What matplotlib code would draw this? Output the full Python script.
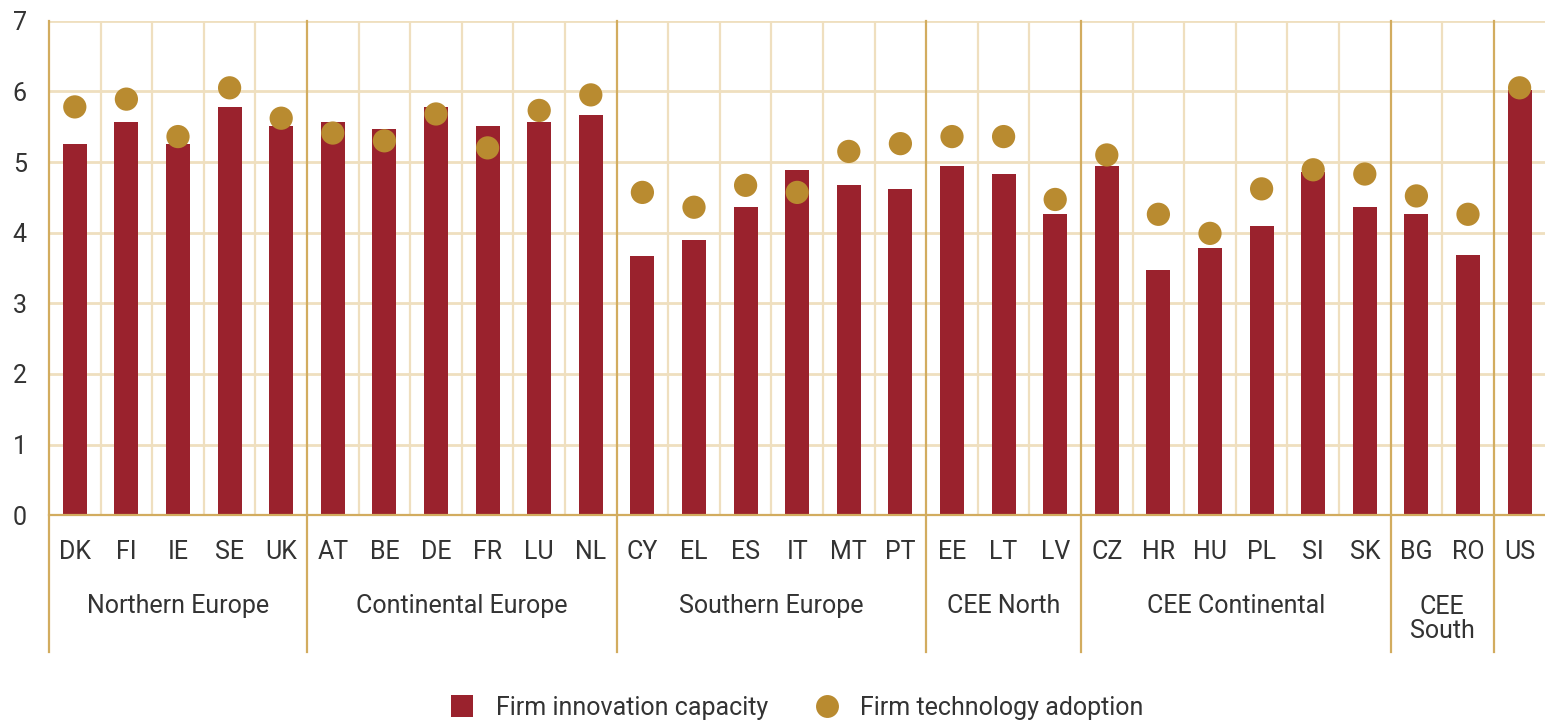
import matplotlib
matplotlib.use("Agg")
import matplotlib.pyplot as plt
from matplotlib.lines import Line2D
import numpy as np

plt.rcParams['font.family'] = ['Roboto', 'DejaVu Sans']

countries = ["DK", "FI", "IE", "SE", "UK",
             "AT", "BE", "DE", "FR", "LU", "NL",
             "CY", "EL", "ES", "IT", "MT", "PT",
             "EE", "LT", "LV",
             "CZ", "HR", "HU", "PL", "SI", "SK",
             "BG", "RO",
             "US"]
innovation = [5.25, 5.57, 5.25, 5.78, 5.51,
              5.57, 5.47, 5.78, 5.51, 5.57, 5.67,
              3.67, 3.89, 4.36, 4.88, 4.67, 4.62,
              4.94, 4.83, 4.26,
              4.94, 3.47, 3.79, 4.10, 4.86, 4.36,
              4.26, 3.68,
              6.02]
adoption = [5.78, 5.89, 5.36, 6.05, 5.62,
            5.41, 5.30, 5.68, 5.20, 5.73, 5.95,
            4.57, 4.36, 4.67, 4.57, 5.15, 5.26,
            5.36, 5.36, 4.47,
            5.10, 4.26, 3.99, 4.62, 4.89, 4.83,
            4.52, 4.26,
            6.05]
groups = ["Northern Europe", "Continental Europe", "Southern Europe",
          "CEE North", "CEE Continental", "CEE\nSouth", ""]
group_sizes = [5, 6, 6, 3, 6, 2, 1]
yticks = [0, 1, 2, 3, 4, 5, 6, 7]

BAR = "#9a222d"
DOT = "#b98b30"
LIGHT = "#efdfbf"
DARK = "#d2ac5f"
TXT = "#333333"
FS = 18

W, H = 1545, 723
fig = plt.figure(figsize=(W / 100, H / 100), dpi=100)
ax = fig.add_axes([49 / W, (H - 515.3) / H, (1545.4 - 49) / W, (515.3 - 20.7) / H])

n = len(countries)
x = np.arange(n) + 0.5
ax.set_xlim(0, n)
ax.set_ylim(0, 7)

# grid
for yv in yticks[1:]:
    ax.axhline(yv, color=LIGHT, lw=2, zorder=0)
bounds = np.cumsum(group_sizes)
for b in range(1, n):
    if b in bounds:
        continue
    ax.axvline(b, color=LIGHT, lw=1.6, zorder=0)

ax.bar(x, innovation, width=0.465, color=BAR, zorder=2)
ax.scatter(x, adoption, s=280, color=DOT, zorder=3, edgecolors='none')

for s in ax.spines.values():
    s.set_visible(False)

ax.set_xticks([])
ax.set_yticks(yticks)
ax.set_yticklabels([str(v) for v in yticks], fontsize=FS, color=TXT)
ax.tick_params(axis='y', length=0, pad=16)

trans = ax.get_xaxis_transform()
span = 515.3 - 20.7
ext = -(652 - 515.3) / span
ax.plot([0, n], [0, 0], color=DARK, lw=1.6, transform=trans, clip_on=False, zorder=4)
sep = [0] + list(bounds[:-1])
for b in sep:
    ax.plot([b, b], [1, ext], color=DARK, lw=1.6, transform=trans, clip_on=False, zorder=4)

lab_y = -(552 - 515.3) / span
for xi, c in zip(x, countries):
    ax.text(xi, lab_y, c, transform=trans, ha='center', va='center', fontsize=FS, color=TXT)

start = 0
for g, sz in zip(groups, group_sizes):
    if g:
        yy = 619 if '\n' in g else 606
        ax.text(start + sz / 2, -(yy - 515.3) / span, g, transform=trans, ha='center', va='center',
                fontsize=FS, color=TXT, linespacing=0.95)
    start += sz

handles = [Line2D([], [], marker='s', ls='none', markersize=16.5, color=BAR, markeredgewidth=0),
           Line2D([], [], marker='o', ls='none', markersize=16.5, color=DOT, markeredgewidth=0)]
fig.legend(handles, ["Firm innovation capacity", "Firm technology adoption"],
           loc='center', bbox_to_anchor=(0.516, (H - 708) / H), ncol=2, frameon=False,
           fontsize=FS, labelcolor=TXT, handlelength=0.9, handletextpad=0.9, columnspacing=1.9)

fig.savefig("out.png", dpi=100)
